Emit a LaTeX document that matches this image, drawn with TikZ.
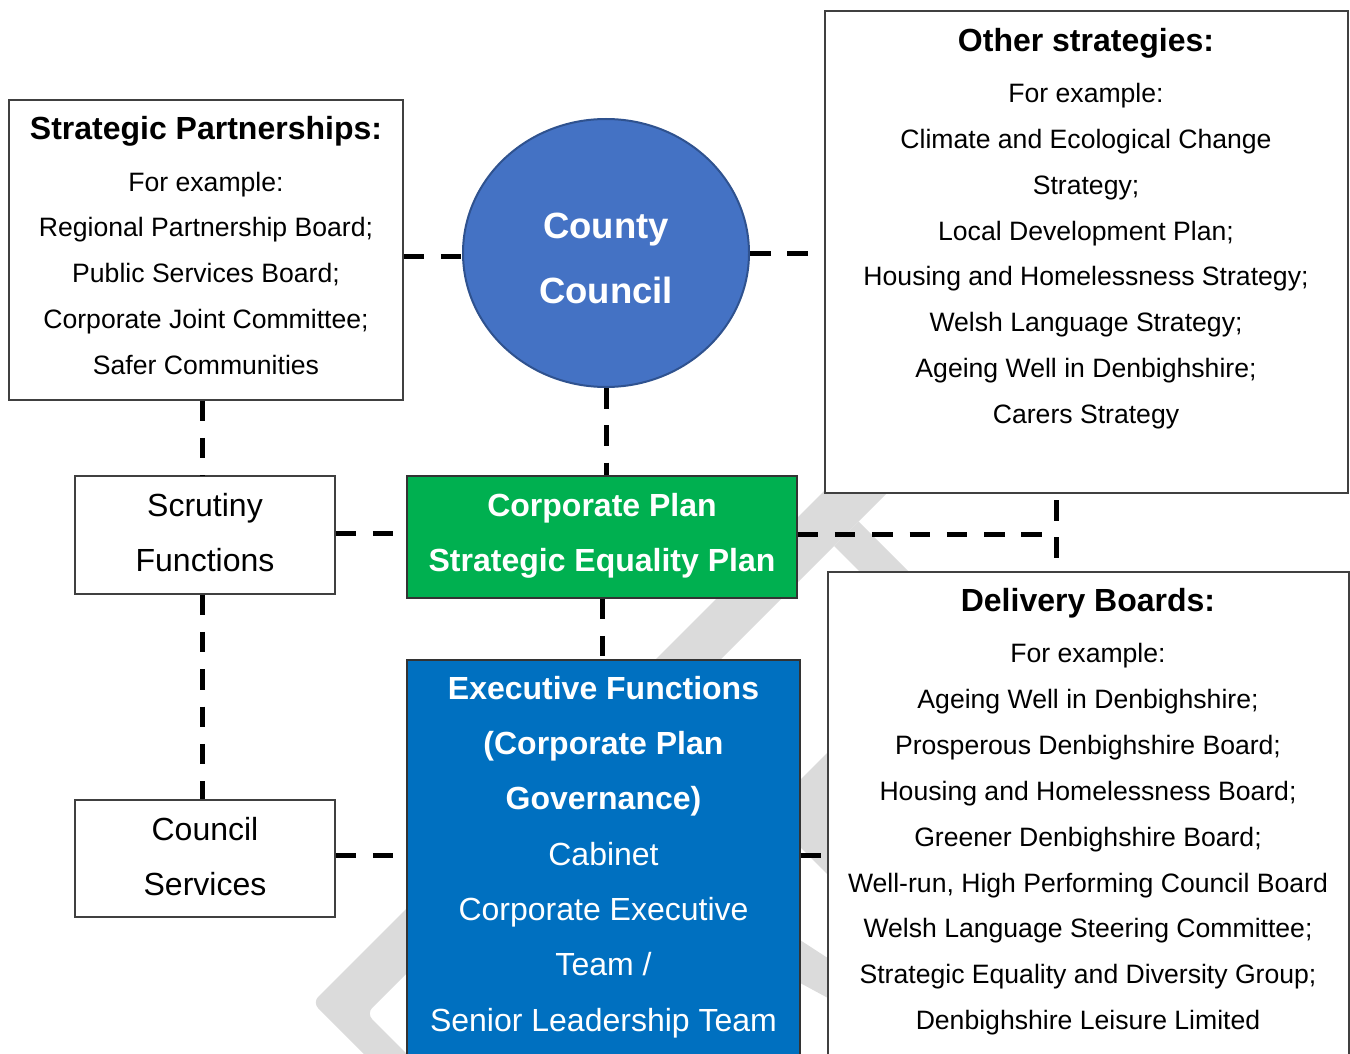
\documentclass[tikz,border=0pt]{standalone}
\usepackage{fontspec}
\setmainfont{Liberation Sans}
\usetikzlibrary{shapes.geometric,calc}
\definecolor{ccblue}{HTML}{4472C4}
\definecolor{ccedge}{HTML}{2F528F}
\definecolor{cpgreen}{HTML}{00B050}
\definecolor{exblue}{HTML}{0070C0}
\definecolor{wmgray}{RGB}{219,219,219}
\begin{document}
\begin{tikzpicture}[x=1pt,y=-1pt,
  box/.style={draw=black!75,line width=1.3pt,fill=white,inner sep=0pt},
  conn/.style={line width=5pt,dash pattern=on 20.5pt off 16.8pt},
  bodytxt/.style={anchor=base,inner sep=0pt,font=\fontsize{26.6}{30}\selectfont},
  titletxt/.style={anchor=base,inner sep=0pt,font=\fontsize{32}{36}\selectfont\bfseries},
  bigtxt/.style={anchor=base,inner sep=0pt,text=white,font=\fontsize{32}{36}\selectfont},
  bigbold/.style={bigtxt,font=\fontsize{32}{36}\selectfont\bfseries},
  cctxt/.style={anchor=base,inner sep=0pt,text=white,font=\fontsize{36.5}{40}\selectfont\bfseries},
  wm/.style={fill=wmgray,draw=none}]
\useasboundingbox (0,0) rectangle (1350,1054);
\clip (0,0) rectangle (1350,1054);
\fill[white] (0,0) rectangle (1350,1054);

% watermark (partial letters behind the boxes)
\fill[wm,rounded corners=8pt] (830,485) -- (312.5,1002.5) -- (370,1060) -- (413,1060) -- (366.5,1013.5) -- (895,485) -- cycle;
\fill[wm] (834,546) -- (858.5,521.5) -- (957,620) -- (908,620) -- cycle;
\fill[wm] (790,790) -- (840,740) -- (840,887) -- (790,837) -- cycle;
\fill[wm] (790,933.5) -- (840,966) -- (840,1004.5) -- (790,977.5) -- cycle;

% boxes
\node[box,minimum width=394pt,minimum height=300pt] (sp) at (206,250) {};
\node[box,minimum width=523pt,minimum height=482pt] (os) at (1086.5,252) {};
\node[box,minimum width=521pt,minimum height=508pt] (del) at (1088.5,826) {};
\node[box,fill=cpgreen,draw=black!80,minimum width=390pt,minimum height=122pt] (cp) at (602,537) {};
\node[box,fill=exblue,draw=black!80,minimum width=393pt,minimum height=420pt] (ex) at (603.5,870) {};
\node[box,minimum width=260pt,minimum height=118pt] (scr) at (205,535) {};
\node[box,minimum width=260pt,minimum height=117pt] (cs) at (205,858.5) {};
\node[ellipse,draw=ccedge,line width=2pt,fill=ccblue,minimum width=286pt,minimum height=268pt,inner sep=0pt] (cc) at (606,253) {};

% connectors
\draw[conn] ([yshift=-3pt]cc.west -| sp.east) -- ([yshift=-3pt]cc.west);
\draw[conn] (cc.east) -- (cc.east -| os.west);
\draw[conn] (cc.south) -- (cc.south |- cp.north);
\draw[conn] (cp.south) -- (cp.south |- ex.north);
\draw[conn] ([yshift=2pt]scr.east) -- ([yshift=2pt]scr.east -| cp.west);
\draw[conn] ([xshift=-3pt]scr.north |- sp.south) -- ([xshift=-3pt]scr.north);
\draw[conn] ([xshift=-3pt]scr.south) -- ([xshift=-3pt]cs.north);
\draw[conn] ([yshift=3.5pt]cs.east) -- ([yshift=3.5pt]cs.east -| ex.west);
\draw[conn] ([yshift=15pt]ex.east) -- ([yshift=15pt]ex.east -| del.west);
\coordinate (jh) at (1058,534);
\coordinate (jt) at (1056,500);
\draw[conn] ([yshift=3pt]cp.east) -- (jh);
\draw[conn] (jt) -- (jt |- del.north);

% Strategic Partnerships
\node[titletxt] (spt) at (206,140) {Strategic Partnerships:};
\foreach \t [count=\i] in {For example:,Regional Partnership Board;,Public Services Board;,Corporate Joint Committee;,Safer Communities}
  \node[bodytxt] (sp\i) at (206,{191+45.8*(\i-1)}) {\t};

% Other strategies
\node[titletxt] (ost) at (1086,51.7) {Other strategies:};
\foreach \t [count=\i] in {For example:,Climate and Ecological Change,Strategy;,Local Development Plan;,Housing and Homelessness Strategy;,Welsh Language Strategy;,Ageing Well in Denbighshire;,Carers Strategy}
  \node[bodytxt] (os\i) at (1086,{102.5+45.86*(\i-1)}) {\t};

% Delivery Boards
\node[titletxt] (delt) at (1088,611) {Delivery Boards:};
\foreach \t [count=\i] in {For example:,Ageing Well in Denbighshire;,Prosperous Denbighshire Board;,Housing and Homelessness Board;,Greener Denbighshire Board;,{Well-run, High Performing Council Board},Welsh Language Steering Committee;,Strategic Equality and Diversity Group;,Denbighshire Leisure Limited}
  \node[bodytxt] (del\i) at (1088,{662.5+45.9*(\i-1)}) {\t};

% County Council
\node[cctxt] (cct1) at (606,238.5) {County};
\node[cctxt] (cct2) at (606,303.5) {Council};

% Corporate Plan
\node[bigbold] (cpt1) at (602,516.6) {Corporate Plan};
\node[bigbold] (cpt2) at (602,571.7) {Strategic Equality Plan};

% Executive Functions
\node[bigbold] (ext1) at (603.5,699) {Executive Functions};
\node[bigbold] (ext2) at (603.5,754.3) {(Corporate Plan};
\node[bigbold] (ext3) at (603.5,809.7) {Governance)};
\node[bigtxt] (ext4) at (603.5,865) {Cabinet};
\node[bigtxt] (ext5) at (603.5,920.3) {Corporate Executive};
\node[bigtxt] (ext6) at (603.5,975.7) {Team /};
\node[bigtxt] (ext7) at (603.5,1031) {Senior Leadership Team};

% Scrutiny / Council Services
\node[bigtxt,text=black] (scrt1) at (205,516) {Scrutiny};
\node[bigtxt,text=black] (scrt2) at (205,571) {Functions};
\node[bigtxt,text=black] (cst1) at (205,840) {Council};
\node[bigtxt,text=black] (cst2) at (205,895) {Services};
\end{tikzpicture}
\end{document}
